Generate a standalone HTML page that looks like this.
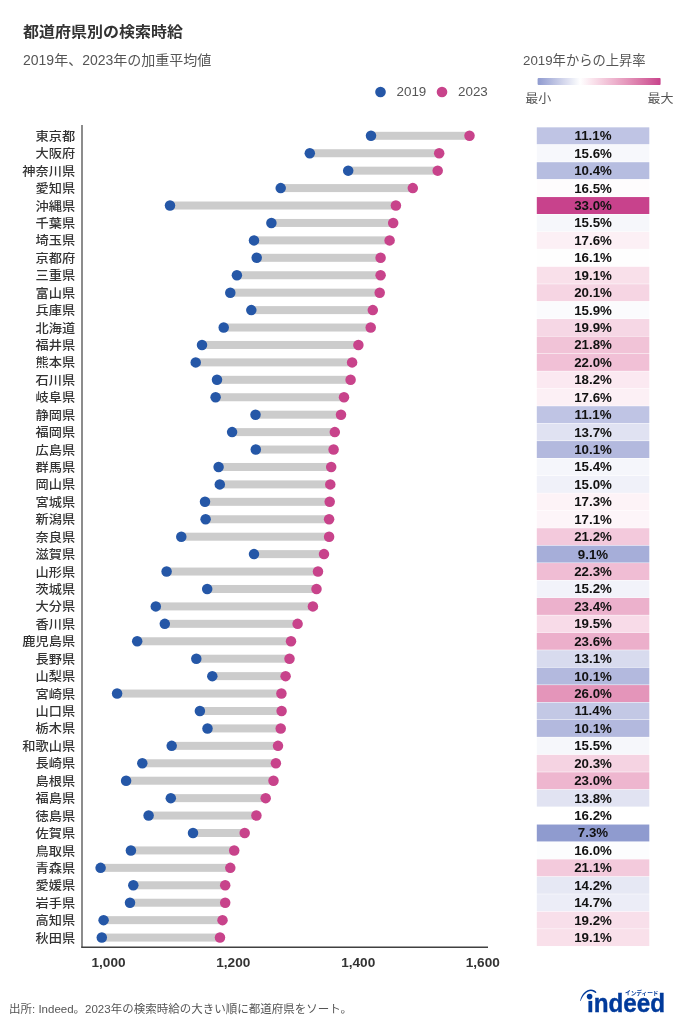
<!DOCTYPE html>
<html lang="ja"><head><meta charset="utf-8"><title>都道府県別の検索時給</title>
<style>
html,body{margin:0;padding:0;background:#fff;}
body{width:683px;height:1024px;overflow:hidden;position:relative;}
svg{position:absolute;left:0;top:0;will-change:transform;}
text{font-family:"Liberation Sans","Noto Sans CJK JP",sans-serif;}
.lab{font-size:13.2px;font-weight:500;fill:#333;text-anchor:end;}
.val{font-size:13.3px;font-weight:bold;fill:#111;text-anchor:middle;}
.tick{font-size:13.6px;font-weight:bold;fill:#333;text-anchor:middle;}
.t1{font-size:16px;font-weight:bold;fill:#333;}
.t2{font-size:14px;fill:#555;}
.lg{font-size:13px;fill:#555;}
.lgn{font-size:13.4px;}
.ft{font-size:11.5px;fill:#555;}
</style></head>
<body>
<svg width="683" height="1024" viewBox="0 0 683 1024">
<defs><linearGradient id="gr" x1="0" x2="1" y1="0" y2="0">
<stop offset="0.0000" stop-color="rgb(143,155,207)"/>
<stop offset="0.0417" stop-color="rgb(157,166,213)"/>
<stop offset="0.0833" stop-color="rgb(170,178,219)"/>
<stop offset="0.1250" stop-color="rgb(184,190,224)"/>
<stop offset="0.1667" stop-color="rgb(197,202,230)"/>
<stop offset="0.2083" stop-color="rgb(211,214,236)"/>
<stop offset="0.2500" stop-color="rgb(224,226,242)"/>
<stop offset="0.2917" stop-color="rgb(237,239,247)"/>
<stop offset="0.3333" stop-color="rgb(251,251,253)"/>
<stop offset="0.3463" stop-color="#ffffff"/>
<stop offset="0.3750" stop-color="rgb(253,247,250)"/>
<stop offset="0.4167" stop-color="rgb(251,235,242)"/>
<stop offset="0.4583" stop-color="rgb(249,224,234)"/>
<stop offset="0.5000" stop-color="rgb(246,212,227)"/>
<stop offset="0.5417" stop-color="rgb(243,201,219)"/>
<stop offset="0.5833" stop-color="rgb(240,189,212)"/>
<stop offset="0.6250" stop-color="rgb(237,178,205)"/>
<stop offset="0.6667" stop-color="rgb(233,166,197)"/>
<stop offset="0.7083" stop-color="rgb(230,155,190)"/>
<stop offset="0.7500" stop-color="rgb(226,143,183)"/>
<stop offset="0.7917" stop-color="rgb(222,131,175)"/>
<stop offset="0.8333" stop-color="rgb(218,119,168)"/>
<stop offset="0.8750" stop-color="rgb(214,107,161)"/>
<stop offset="0.9167" stop-color="rgb(209,94,154)"/>
<stop offset="0.9583" stop-color="rgb(205,81,147)"/>
<stop offset="1.0000" stop-color="rgb(200,66,140)"/>
</linearGradient></defs>
<text transform="translate(23 31.7) scale(1 0.93)" y="6.1" class="t1">都道府県別の検索時給</text>
<text x="23" y="65.1" class="t2">2019年、2023年の加重平均値</text>
<text x="523" y="65" class="lg" style="font-size:13.3px">2019年からの上昇率</text>
<rect x="537.6" y="78" width="123" height="7" rx="1" fill="url(#gr)"/>
<text transform="translate(525.2 98.25) scale(1 0.92)" y="4.95" class="lg">最小</text>
<text transform="translate(673.4 98.25) scale(1 0.92)" y="4.95" class="lg" text-anchor="end">最大</text>
<circle cx="380.5" cy="92" r="5.3" fill="#2557a7"/>
<text x="396.5" y="96.4" class="lg lgn">2019</text>
<circle cx="442" cy="92" r="5.3" fill="#c8438b"/>
<text x="458" y="96.4" class="lg lgn">2023</text>
<text transform="translate(75.1 135.95) scale(1 0.92)" y="5.35" class="lab">東京都</text>
<text transform="translate(75.1 153.38) scale(1 0.92)" y="5.35" class="lab">大阪府</text>
<text transform="translate(75.1 170.81) scale(1 0.92)" y="5.35" class="lab">神奈川県</text>
<text transform="translate(75.1 188.24) scale(1 0.92)" y="5.35" class="lab">愛知県</text>
<text transform="translate(75.1 205.67) scale(1 0.92)" y="5.35" class="lab">沖縄県</text>
<text transform="translate(75.1 223.10) scale(1 0.92)" y="5.35" class="lab">千葉県</text>
<text transform="translate(75.1 240.53) scale(1 0.92)" y="5.35" class="lab">埼玉県</text>
<text transform="translate(75.1 257.96) scale(1 0.92)" y="5.35" class="lab">京都府</text>
<text transform="translate(75.1 275.39) scale(1 0.92)" y="5.35" class="lab">三重県</text>
<text transform="translate(75.1 292.82) scale(1 0.92)" y="5.35" class="lab">富山県</text>
<text transform="translate(75.1 310.25) scale(1 0.92)" y="5.35" class="lab">兵庫県</text>
<text transform="translate(75.1 327.68) scale(1 0.92)" y="5.35" class="lab">北海道</text>
<text transform="translate(75.1 345.11) scale(1 0.92)" y="5.35" class="lab">福井県</text>
<text transform="translate(75.1 362.54) scale(1 0.92)" y="5.35" class="lab">熊本県</text>
<text transform="translate(75.1 379.97) scale(1 0.92)" y="5.35" class="lab">石川県</text>
<text transform="translate(75.1 397.40) scale(1 0.92)" y="5.35" class="lab">岐阜県</text>
<text transform="translate(75.1 414.83) scale(1 0.92)" y="5.35" class="lab">静岡県</text>
<text transform="translate(75.1 432.26) scale(1 0.92)" y="5.35" class="lab">福岡県</text>
<text transform="translate(75.1 449.69) scale(1 0.92)" y="5.35" class="lab">広島県</text>
<text transform="translate(75.1 467.12) scale(1 0.92)" y="5.35" class="lab">群馬県</text>
<text transform="translate(75.1 484.55) scale(1 0.92)" y="5.35" class="lab">岡山県</text>
<text transform="translate(75.1 501.98) scale(1 0.92)" y="5.35" class="lab">宮城県</text>
<text transform="translate(75.1 519.41) scale(1 0.92)" y="5.35" class="lab">新潟県</text>
<text transform="translate(75.1 536.84) scale(1 0.92)" y="5.35" class="lab">奈良県</text>
<text transform="translate(75.1 554.27) scale(1 0.92)" y="5.35" class="lab">滋賀県</text>
<text transform="translate(75.1 571.70) scale(1 0.92)" y="5.35" class="lab">山形県</text>
<text transform="translate(75.1 589.13) scale(1 0.92)" y="5.35" class="lab">茨城県</text>
<text transform="translate(75.1 606.56) scale(1 0.92)" y="5.35" class="lab">大分県</text>
<text transform="translate(75.1 623.99) scale(1 0.92)" y="5.35" class="lab">香川県</text>
<text transform="translate(75.1 641.42) scale(1 0.92)" y="5.35" class="lab">鹿児島県</text>
<text transform="translate(75.1 658.85) scale(1 0.92)" y="5.35" class="lab">長野県</text>
<text transform="translate(75.1 676.28) scale(1 0.92)" y="5.35" class="lab">山梨県</text>
<text transform="translate(75.1 693.71) scale(1 0.92)" y="5.35" class="lab">宮崎県</text>
<text transform="translate(75.1 711.14) scale(1 0.92)" y="5.35" class="lab">山口県</text>
<text transform="translate(75.1 728.57) scale(1 0.92)" y="5.35" class="lab">栃木県</text>
<text transform="translate(75.1 746.00) scale(1 0.92)" y="5.35" class="lab">和歌山県</text>
<text transform="translate(75.1 763.43) scale(1 0.92)" y="5.35" class="lab">長崎県</text>
<text transform="translate(75.1 780.86) scale(1 0.92)" y="5.35" class="lab">島根県</text>
<text transform="translate(75.1 798.29) scale(1 0.92)" y="5.35" class="lab">福島県</text>
<text transform="translate(75.1 815.72) scale(1 0.92)" y="5.35" class="lab">徳島県</text>
<text transform="translate(75.1 833.15) scale(1 0.92)" y="5.35" class="lab">佐賀県</text>
<text transform="translate(75.1 850.58) scale(1 0.92)" y="5.35" class="lab">鳥取県</text>
<text transform="translate(75.1 868.01) scale(1 0.92)" y="5.35" class="lab">青森県</text>
<text transform="translate(75.1 885.44) scale(1 0.92)" y="5.35" class="lab">愛媛県</text>
<text transform="translate(75.1 902.87) scale(1 0.92)" y="5.35" class="lab">岩手県</text>
<text transform="translate(75.1 920.30) scale(1 0.92)" y="5.35" class="lab">高知県</text>
<text transform="translate(75.1 937.73) scale(1 0.92)" y="5.35" class="lab">秋田県</text>
<rect x="371.0" y="131.80" width="98.5" height="8.0" fill="#cccccc"/>
<circle cx="371.0" cy="135.80" r="5.25" fill="#2557a7"/>
<circle cx="469.5" cy="135.80" r="5.25" fill="#c8438b"/>
<rect x="309.8" y="149.23" width="129.4" height="8.0" fill="#cccccc"/>
<circle cx="309.8" cy="153.23" r="5.25" fill="#2557a7"/>
<circle cx="439.2" cy="153.23" r="5.25" fill="#c8438b"/>
<rect x="348.2" y="166.66" width="89.5" height="8.0" fill="#cccccc"/>
<circle cx="348.2" cy="170.66" r="5.25" fill="#2557a7"/>
<circle cx="437.7" cy="170.66" r="5.25" fill="#c8438b"/>
<rect x="280.7" y="184.09" width="132.1" height="8.0" fill="#cccccc"/>
<circle cx="280.7" cy="188.09" r="5.25" fill="#2557a7"/>
<circle cx="412.8" cy="188.09" r="5.25" fill="#c8438b"/>
<rect x="170.0" y="201.52" width="225.9" height="8.0" fill="#cccccc"/>
<circle cx="170.0" cy="205.52" r="5.25" fill="#2557a7"/>
<circle cx="395.9" cy="205.52" r="5.25" fill="#c8438b"/>
<rect x="271.4" y="218.95" width="121.8" height="8.0" fill="#cccccc"/>
<circle cx="271.4" cy="222.95" r="5.25" fill="#2557a7"/>
<circle cx="393.2" cy="222.95" r="5.25" fill="#c8438b"/>
<rect x="254.0" y="236.38" width="135.6" height="8.0" fill="#cccccc"/>
<circle cx="254.0" cy="240.38" r="5.25" fill="#2557a7"/>
<circle cx="389.6" cy="240.38" r="5.25" fill="#c8438b"/>
<rect x="256.7" y="253.81" width="123.9" height="8.0" fill="#cccccc"/>
<circle cx="256.7" cy="257.81" r="5.25" fill="#2557a7"/>
<circle cx="380.6" cy="257.81" r="5.25" fill="#c8438b"/>
<rect x="236.9" y="271.24" width="143.7" height="8.0" fill="#cccccc"/>
<circle cx="236.9" cy="275.24" r="5.25" fill="#2557a7"/>
<circle cx="380.6" cy="275.24" r="5.25" fill="#c8438b"/>
<rect x="230.3" y="288.67" width="149.4" height="8.0" fill="#cccccc"/>
<circle cx="230.3" cy="292.67" r="5.25" fill="#2557a7"/>
<circle cx="379.7" cy="292.67" r="5.25" fill="#c8438b"/>
<rect x="251.3" y="306.10" width="121.5" height="8.0" fill="#cccccc"/>
<circle cx="251.3" cy="310.10" r="5.25" fill="#2557a7"/>
<circle cx="372.8" cy="310.10" r="5.25" fill="#c8438b"/>
<rect x="223.7" y="323.53" width="147.0" height="8.0" fill="#cccccc"/>
<circle cx="223.7" cy="327.53" r="5.25" fill="#2557a7"/>
<circle cx="370.7" cy="327.53" r="5.25" fill="#c8438b"/>
<rect x="202.0" y="340.96" width="156.4" height="8.0" fill="#cccccc"/>
<circle cx="202.0" cy="344.96" r="5.25" fill="#2557a7"/>
<circle cx="358.4" cy="344.96" r="5.25" fill="#c8438b"/>
<rect x="195.7" y="358.39" width="156.4" height="8.0" fill="#cccccc"/>
<circle cx="195.7" cy="362.39" r="5.25" fill="#2557a7"/>
<circle cx="352.1" cy="362.39" r="5.25" fill="#c8438b"/>
<rect x="217.0" y="375.82" width="133.6" height="8.0" fill="#cccccc"/>
<circle cx="217.0" cy="379.82" r="5.25" fill="#2557a7"/>
<circle cx="350.6" cy="379.82" r="5.25" fill="#c8438b"/>
<rect x="215.6" y="393.25" width="128.4" height="8.0" fill="#cccccc"/>
<circle cx="215.6" cy="397.25" r="5.25" fill="#2557a7"/>
<circle cx="344.0" cy="397.25" r="5.25" fill="#c8438b"/>
<rect x="255.5" y="410.68" width="85.5" height="8.0" fill="#cccccc"/>
<circle cx="255.5" cy="414.68" r="5.25" fill="#2557a7"/>
<circle cx="341.0" cy="414.68" r="5.25" fill="#c8438b"/>
<rect x="232.1" y="428.11" width="102.7" height="8.0" fill="#cccccc"/>
<circle cx="232.1" cy="432.11" r="5.25" fill="#2557a7"/>
<circle cx="334.8" cy="432.11" r="5.25" fill="#c8438b"/>
<rect x="255.8" y="445.54" width="77.8" height="8.0" fill="#cccccc"/>
<circle cx="255.8" cy="449.54" r="5.25" fill="#2557a7"/>
<circle cx="333.6" cy="449.54" r="5.25" fill="#c8438b"/>
<rect x="218.6" y="462.97" width="112.6" height="8.0" fill="#cccccc"/>
<circle cx="218.6" cy="466.97" r="5.25" fill="#2557a7"/>
<circle cx="331.2" cy="466.97" r="5.25" fill="#c8438b"/>
<rect x="219.8" y="480.40" width="110.5" height="8.0" fill="#cccccc"/>
<circle cx="219.8" cy="484.40" r="5.25" fill="#2557a7"/>
<circle cx="330.3" cy="484.40" r="5.25" fill="#c8438b"/>
<rect x="205.0" y="497.83" width="124.7" height="8.0" fill="#cccccc"/>
<circle cx="205.0" cy="501.83" r="5.25" fill="#2557a7"/>
<circle cx="329.7" cy="501.83" r="5.25" fill="#c8438b"/>
<rect x="205.6" y="515.26" width="123.5" height="8.0" fill="#cccccc"/>
<circle cx="205.6" cy="519.26" r="5.25" fill="#2557a7"/>
<circle cx="329.1" cy="519.26" r="5.25" fill="#c8438b"/>
<rect x="181.3" y="532.69" width="147.8" height="8.0" fill="#cccccc"/>
<circle cx="181.3" cy="536.69" r="5.25" fill="#2557a7"/>
<circle cx="329.1" cy="536.69" r="5.25" fill="#c8438b"/>
<rect x="254.0" y="550.12" width="70.0" height="8.0" fill="#cccccc"/>
<circle cx="254.0" cy="554.12" r="5.25" fill="#2557a7"/>
<circle cx="324.0" cy="554.12" r="5.25" fill="#c8438b"/>
<rect x="166.6" y="567.55" width="151.4" height="8.0" fill="#cccccc"/>
<circle cx="166.6" cy="571.55" r="5.25" fill="#2557a7"/>
<circle cx="318.0" cy="571.55" r="5.25" fill="#c8438b"/>
<rect x="207.2" y="584.98" width="109.3" height="8.0" fill="#cccccc"/>
<circle cx="207.2" cy="588.98" r="5.25" fill="#2557a7"/>
<circle cx="316.5" cy="588.98" r="5.25" fill="#c8438b"/>
<rect x="155.8" y="602.41" width="157.1" height="8.0" fill="#cccccc"/>
<circle cx="155.8" cy="606.41" r="5.25" fill="#2557a7"/>
<circle cx="312.9" cy="606.41" r="5.25" fill="#c8438b"/>
<rect x="164.8" y="619.84" width="132.8" height="8.0" fill="#cccccc"/>
<circle cx="164.8" cy="623.84" r="5.25" fill="#2557a7"/>
<circle cx="297.6" cy="623.84" r="5.25" fill="#c8438b"/>
<rect x="137.2" y="637.27" width="153.8" height="8.0" fill="#cccccc"/>
<circle cx="137.2" cy="641.27" r="5.25" fill="#2557a7"/>
<circle cx="291.0" cy="641.27" r="5.25" fill="#c8438b"/>
<rect x="196.3" y="654.70" width="93.2" height="8.0" fill="#cccccc"/>
<circle cx="196.3" cy="658.70" r="5.25" fill="#2557a7"/>
<circle cx="289.5" cy="658.70" r="5.25" fill="#c8438b"/>
<rect x="212.3" y="672.13" width="73.3" height="8.0" fill="#cccccc"/>
<circle cx="212.3" cy="676.13" r="5.25" fill="#2557a7"/>
<circle cx="285.6" cy="676.13" r="5.25" fill="#c8438b"/>
<rect x="117.1" y="689.56" width="164.3" height="8.0" fill="#cccccc"/>
<circle cx="117.1" cy="693.56" r="5.25" fill="#2557a7"/>
<circle cx="281.4" cy="693.56" r="5.25" fill="#c8438b"/>
<rect x="199.9" y="706.99" width="81.7" height="8.0" fill="#cccccc"/>
<circle cx="199.9" cy="710.99" r="5.25" fill="#2557a7"/>
<circle cx="281.6" cy="710.99" r="5.25" fill="#c8438b"/>
<rect x="207.5" y="724.42" width="73.2" height="8.0" fill="#cccccc"/>
<circle cx="207.5" cy="728.42" r="5.25" fill="#2557a7"/>
<circle cx="280.7" cy="728.42" r="5.25" fill="#c8438b"/>
<rect x="171.7" y="741.85" width="106.3" height="8.0" fill="#cccccc"/>
<circle cx="171.7" cy="745.85" r="5.25" fill="#2557a7"/>
<circle cx="278.0" cy="745.85" r="5.25" fill="#c8438b"/>
<rect x="142.3" y="759.28" width="133.6" height="8.0" fill="#cccccc"/>
<circle cx="142.3" cy="763.28" r="5.25" fill="#2557a7"/>
<circle cx="275.9" cy="763.28" r="5.25" fill="#c8438b"/>
<rect x="126.1" y="776.71" width="147.4" height="8.0" fill="#cccccc"/>
<circle cx="126.1" cy="780.71" r="5.25" fill="#2557a7"/>
<circle cx="273.5" cy="780.71" r="5.25" fill="#c8438b"/>
<rect x="170.8" y="794.14" width="94.9" height="8.0" fill="#cccccc"/>
<circle cx="170.8" cy="798.14" r="5.25" fill="#2557a7"/>
<circle cx="265.7" cy="798.14" r="5.25" fill="#c8438b"/>
<rect x="148.6" y="811.57" width="107.8" height="8.0" fill="#cccccc"/>
<circle cx="148.6" cy="815.57" r="5.25" fill="#2557a7"/>
<circle cx="256.4" cy="815.57" r="5.25" fill="#c8438b"/>
<rect x="193.0" y="829.00" width="51.7" height="8.0" fill="#cccccc"/>
<circle cx="193.0" cy="833.00" r="5.25" fill="#2557a7"/>
<circle cx="244.7" cy="833.00" r="5.25" fill="#c8438b"/>
<rect x="130.9" y="846.43" width="103.3" height="8.0" fill="#cccccc"/>
<circle cx="130.9" cy="850.43" r="5.25" fill="#2557a7"/>
<circle cx="234.2" cy="850.43" r="5.25" fill="#c8438b"/>
<rect x="100.6" y="863.86" width="129.7" height="8.0" fill="#cccccc"/>
<circle cx="100.6" cy="867.86" r="5.25" fill="#2557a7"/>
<circle cx="230.3" cy="867.86" r="5.25" fill="#c8438b"/>
<rect x="133.3" y="881.29" width="91.9" height="8.0" fill="#cccccc"/>
<circle cx="133.3" cy="885.29" r="5.25" fill="#2557a7"/>
<circle cx="225.2" cy="885.29" r="5.25" fill="#c8438b"/>
<rect x="130.0" y="898.72" width="95.2" height="8.0" fill="#cccccc"/>
<circle cx="130.0" cy="902.72" r="5.25" fill="#2557a7"/>
<circle cx="225.2" cy="902.72" r="5.25" fill="#c8438b"/>
<rect x="103.6" y="916.15" width="118.9" height="8.0" fill="#cccccc"/>
<circle cx="103.6" cy="920.15" r="5.25" fill="#2557a7"/>
<circle cx="222.5" cy="920.15" r="5.25" fill="#c8438b"/>
<rect x="101.8" y="933.58" width="118.2" height="8.0" fill="#cccccc"/>
<circle cx="101.8" cy="937.58" r="5.25" fill="#2557a7"/>
<circle cx="220.0" cy="937.58" r="5.25" fill="#c8438b"/>
<rect x="536.8" y="127.34" width="112.5" height="16.93" fill="rgb(191,196,228)"/>
<text x="593" y="140.25" class="val">11.1%</text>
<rect x="536.8" y="144.77" width="112.5" height="16.93" fill="rgb(247,248,252)"/>
<text x="593" y="157.68" class="val">15.6%</text>
<rect x="536.8" y="162.20" width="112.5" height="16.93" fill="rgb(182,189,224)"/>
<text x="593" y="175.11" class="val">10.4%</text>
<rect x="536.8" y="179.62" width="112.5" height="16.93" fill="rgb(254,252,253)"/>
<text x="593" y="192.54" class="val">16.5%</text>
<rect x="536.8" y="197.06" width="112.5" height="16.93" fill="rgb(200,66,140)"/>
<text x="593" y="209.97" class="val">33.0%</text>
<rect x="536.8" y="214.49" width="112.5" height="16.93" fill="rgb(246,247,251)"/>
<text x="593" y="227.40" class="val">15.5%</text>
<rect x="536.8" y="231.91" width="112.5" height="16.93" fill="rgb(252,240,245)"/>
<text x="593" y="244.83" class="val">17.6%</text>
<rect x="536.8" y="249.34" width="112.5" height="16.93" fill="rgb(254,254,254)"/>
<text x="593" y="262.26" class="val">16.1%</text>
<rect x="536.8" y="266.78" width="112.5" height="16.93" fill="rgb(249,224,234)"/>
<text x="593" y="279.69" class="val">19.1%</text>
<rect x="536.8" y="284.21" width="112.5" height="16.93" fill="rgb(246,213,227)"/>
<text x="593" y="297.12" class="val">20.1%</text>
<rect x="536.8" y="301.64" width="112.5" height="16.93" fill="rgb(251,251,253)"/>
<text x="593" y="314.55" class="val">15.9%</text>
<rect x="536.8" y="319.06" width="112.5" height="16.93" fill="rgb(246,215,229)"/>
<text x="593" y="331.98" class="val">19.9%</text>
<rect x="536.8" y="336.50" width="112.5" height="16.93" fill="rgb(241,195,215)"/>
<text x="593" y="349.41" class="val">21.8%</text>
<rect x="536.8" y="353.93" width="112.5" height="16.93" fill="rgb(241,192,214)"/>
<text x="593" y="366.84" class="val">22.0%</text>
<rect x="536.8" y="371.36" width="112.5" height="16.93" fill="rgb(251,233,241)"/>
<text x="593" y="384.27" class="val">18.2%</text>
<rect x="536.8" y="388.79" width="112.5" height="16.93" fill="rgb(252,240,245)"/>
<text x="593" y="401.70" class="val">17.6%</text>
<rect x="536.8" y="406.22" width="112.5" height="16.93" fill="rgb(191,196,228)"/>
<text x="593" y="419.13" class="val">11.1%</text>
<rect x="536.8" y="423.65" width="112.5" height="16.93" fill="rgb(224,226,242)"/>
<text x="593" y="436.56" class="val">13.7%</text>
<rect x="536.8" y="441.08" width="112.5" height="16.93" fill="rgb(179,185,222)"/>
<text x="593" y="453.99" class="val">10.1%</text>
<rect x="536.8" y="458.51" width="112.5" height="16.93" fill="rgb(245,246,251)"/>
<text x="593" y="471.42" class="val">15.4%</text>
<rect x="536.8" y="475.94" width="112.5" height="16.93" fill="rgb(240,241,249)"/>
<text x="593" y="488.85" class="val">15.0%</text>
<rect x="536.8" y="493.37" width="112.5" height="16.93" fill="rgb(253,243,247)"/>
<text x="593" y="506.28" class="val">17.3%</text>
<rect x="536.8" y="510.80" width="112.5" height="16.93" fill="rgb(253,245,249)"/>
<text x="593" y="523.71" class="val">17.1%</text>
<rect x="536.8" y="528.23" width="112.5" height="16.93" fill="rgb(243,201,220)"/>
<text x="593" y="541.14" class="val">21.2%</text>
<rect x="536.8" y="545.65" width="112.5" height="16.93" fill="rgb(166,174,217)"/>
<text x="593" y="558.57" class="val">9.1%</text>
<rect x="536.8" y="563.08" width="112.5" height="16.93" fill="rgb(240,189,212)"/>
<text x="593" y="576.00" class="val">22.3%</text>
<rect x="536.8" y="580.51" width="112.5" height="16.93" fill="rgb(242,243,250)"/>
<text x="593" y="593.43" class="val">15.2%</text>
<rect x="536.8" y="597.95" width="112.5" height="16.93" fill="rgb(236,177,204)"/>
<text x="593" y="610.86" class="val">23.4%</text>
<rect x="536.8" y="615.37" width="112.5" height="16.93" fill="rgb(248,219,232)"/>
<text x="593" y="628.29" class="val">19.5%</text>
<rect x="536.8" y="632.80" width="112.5" height="16.93" fill="rgb(236,175,203)"/>
<text x="593" y="645.72" class="val">23.6%</text>
<rect x="536.8" y="650.24" width="112.5" height="16.93" fill="rgb(216,219,238)"/>
<text x="593" y="663.15" class="val">13.1%</text>
<rect x="536.8" y="667.67" width="112.5" height="16.93" fill="rgb(179,185,222)"/>
<text x="593" y="680.58" class="val">10.1%</text>
<rect x="536.8" y="685.09" width="112.5" height="16.93" fill="rgb(228,149,186)"/>
<text x="593" y="698.01" class="val">26.0%</text>
<rect x="536.8" y="702.52" width="112.5" height="16.93" fill="rgb(195,200,229)"/>
<text x="593" y="715.44" class="val">11.4%</text>
<rect x="536.8" y="719.96" width="112.5" height="16.93" fill="rgb(179,185,222)"/>
<text x="593" y="732.87" class="val">10.1%</text>
<rect x="536.8" y="737.38" width="112.5" height="16.93" fill="rgb(246,247,251)"/>
<text x="593" y="750.30" class="val">15.5%</text>
<rect x="536.8" y="754.81" width="112.5" height="16.93" fill="rgb(245,211,226)"/>
<text x="593" y="767.73" class="val">20.3%</text>
<rect x="536.8" y="772.25" width="112.5" height="16.93" fill="rgb(238,182,207)"/>
<text x="593" y="785.16" class="val">23.0%</text>
<rect x="536.8" y="789.68" width="112.5" height="16.93" fill="rgb(225,227,242)"/>
<text x="593" y="802.59" class="val">13.8%</text>
<rect x="536.8" y="807.10" width="112.5" height="16.93" fill="rgb(255,255,255)"/>
<text x="593" y="820.02" class="val">16.2%</text>
<rect x="536.8" y="824.53" width="112.5" height="16.93" fill="rgb(143,155,207)"/>
<text x="593" y="837.45" class="val">7.3%</text>
<rect x="536.8" y="841.97" width="112.5" height="16.93" fill="rgb(252,253,254)"/>
<text x="593" y="854.88" class="val">16.0%</text>
<rect x="536.8" y="859.39" width="112.5" height="16.93" fill="rgb(243,202,220)"/>
<text x="593" y="872.31" class="val">21.1%</text>
<rect x="536.8" y="876.82" width="112.5" height="16.93" fill="rgb(230,232,244)"/>
<text x="593" y="889.74" class="val">14.2%</text>
<rect x="536.8" y="894.25" width="112.5" height="16.93" fill="rgb(236,237,247)"/>
<text x="593" y="907.17" class="val">14.7%</text>
<rect x="536.8" y="911.69" width="112.5" height="16.93" fill="rgb(248,223,234)"/>
<text x="593" y="924.60" class="val">19.2%</text>
<rect x="536.8" y="929.11" width="112.5" height="16.93" fill="rgb(249,224,234)"/>
<text x="593" y="942.03" class="val">19.1%</text>
<line x1="82" y1="125" x2="82" y2="947.3" stroke="#707070" stroke-width="1.6"/>
<line x1="81.2" y1="947.3" x2="488" y2="947.3" stroke="#404040" stroke-width="1.4"/>
<text x="108.5" y="967" class="tick">1,000</text>
<text x="233.3" y="967" class="tick">1,200</text>
<text x="358.2" y="967" class="tick">1,400</text>
<text x="482.8" y="967" class="tick">1,600</text>
<g>
<text x="586.9" y="1011.6" textLength="78.2" lengthAdjust="spacingAndGlyphs" style="font-family:'Liberation Sans',sans-serif;font-weight:bold;font-size:26px;fill:#003a9b;stroke:#003a9b;stroke-width:0.4">indeed</text>
<rect x="586" y="991.8" width="7.4" height="9.1" fill="#fff"/>
<circle cx="589.6" cy="996.6" r="2.8" fill="#003a9b"/>
<path d="M580.1 1000.9 C581.8 993.7 586.3 989.6 590.9 989.6 C593.3 989.6 595.3 990.6 596.3 992 C596.6 992.5 596 993.1 595.3 992.9 C594.2 991.9 592.8 990.9 590.9 990.9 C586.9 990.9 583.2 994.6 580.6 1001 Z" fill="#003a9b"/>
<text x="625" y="995.4" textLength="33.5" lengthAdjust="spacingAndGlyphs" style="font-family:'Noto Sans CJK JP',sans-serif;font-weight:bold;font-size:6px;fill:#003a9b">インディード</text>
</g>
<text x="9" y="1013" class="ft">出所: Indeed。2023年の検索時給の大きい順に都道府県をソート。</text>
</svg>
</body></html>
